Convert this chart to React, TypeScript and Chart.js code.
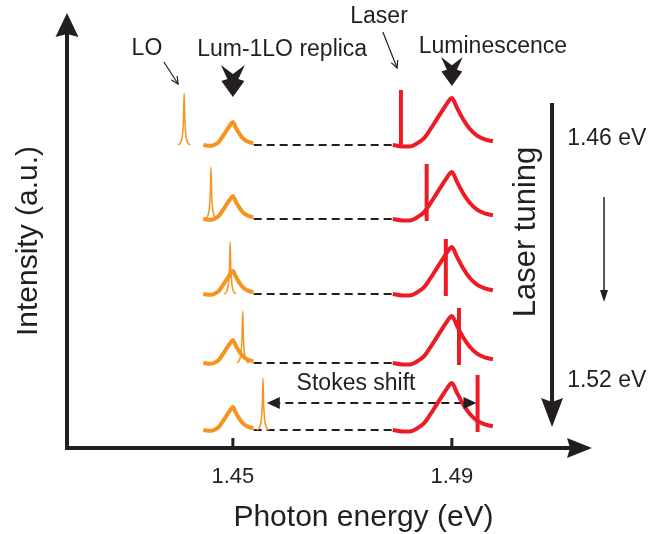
import React, { useEffect, useRef } from "react";
import { Chart, registerables } from "chart.js";

Chart.register(...registerables);

// ---------- data ----------
const X_MIN = 1.4197; // eV at the y-axis
const X_MAX = 1.5156; // eV at the x-axis arrow tip
const Y_MIN = 0;
const Y_MAX = 43.5; // a.u.
const TICK_VALUES = [1.45, 1.49];
const TICK_LABELS = ["1.45", "1.49"];

// vertical offsets (a.u.) of the five spectra, top to bottom
const ROW_BASELINES = [30.3, 22.9, 15.4, 8.5, 1.8];
// laser line energies (eV) for each spectrum
const LASER_ENERGIES = [1.4807, 1.4854, 1.4889, 1.4913, 1.4947];
// LO-shifted laser line energies (eV)
const LO_ENERGIES = [1.4411, 1.446, 1.4495, 1.4518, 1.4555];

const LUM_PEAK = 1.49; // eV
const REPLICA_PEAK = 1.45; // eV
// luminescence line shape: offset from peak (meV) and relative intensity
const LUM_SHAPE_DE = [-10.8, -9.1, -7.7, -6.4, -5.1, -4.0, -2.9, -1.8, -0.9, 0, 0.9, 2.0, 3.3, 4.6, 6.0, 7.5];
const LUM_SHAPE_I = [0, -0.03, -0.03, 0.03, 0.14, 0.32, 0.52, 0.72, 0.88, 1, 0.8, 0.56, 0.34, 0.2, 0.12, 0.08];
const LUM_HEIGHT = 4.7;
const REPLICA_HEIGHT = 2.3;
const REPLICA_WIDTH = 0.5;
// narrow LO line shape
const LO_SHAPE_DE = [-1.1, -0.6, -0.3, -0.12, 0, 0.12, 0.3, 0.6, 1.1];
const LO_SHAPE_I = [0, 0.06, 0.2, 0.5, 1, 0.5, 0.2, 0.06, 0];
const LO_HEIGHT = 5.2;
const LASER_HEIGHT = 5.5;
const LASER_FOOT = -0.2;
// dashed guide lines between replica and luminescence
const DASH_FROM = 1.4538;
const DASH_TO = 1.4792;
// Stokes shift arrow
const STOKES_FROM = 1.4562;
const STOKES_TO = 1.4945;
const STOKES_LEVEL = 4.5;

// ---------- styles ----------
const INK = "#231F20";
const ORANGE = "#F7931E";
const RED = "#ED1C24";
const FONT = '"Liberation Sans", Arial, Helvetica, sans-serif';

type Ctx = CanvasRenderingContext2D;

function arrowHead(ctx: Ctx, tx: number, ty: number, dx: number, dy: number, len: number, hw: number, notch: number) {
  const bx = tx - dx * len;
  const by = ty - dy * len;
  const nx = -dy;
  const ny = dx;
  ctx.beginPath();
  ctx.moveTo(tx, ty);
  ctx.lineTo(bx + nx * hw, by + ny * hw);
  ctx.lineTo(tx - dx * (len - notch), ty - dy * (len - notch));
  ctx.lineTo(bx - nx * hw, by - ny * hw);
  ctx.closePath();
  ctx.fill();
}

function openArrow(ctx: Ctx, x1: number, y1: number, x2: number, y2: number) {
  ctx.beginPath();
  ctx.moveTo(x1, y1);
  ctx.lineTo(x2, y2);
  ctx.stroke();
  const a = Math.atan2(y2 - y1, x2 - x1);
  const L = 8;
  const s = 0.45;
  ctx.beginPath();
  ctx.moveTo(x2 - L * Math.cos(a - s), y2 - L * Math.sin(a - s));
  ctx.lineTo(x2, y2);
  ctx.lineTo(x2 - L * Math.cos(a + s), y2 - L * Math.sin(a + s));
  ctx.stroke();
}

function dart(ctx: Ctx, cx: number, top: number, tip: number) {
  const s = (tip - top) / 32;
  const pts = [
    [-12, 0], [0, 9], [12, 0], [5.5, 14], [11.5, 16], [0, 32], [-11.5, 16], [-5.5, 14],
  ];
  ctx.beginPath();
  pts.forEach(([px, py], i) => {
    const X = cx + px * s;
    const Y = top + py * s;
    if (i === 0) ctx.moveTo(X, Y);
    else ctx.lineTo(X, Y);
  });
  ctx.closePath();
  ctx.fill();
}

const overlay = {
  id: "overlay",
  afterDatasetsDraw(chart: any) {
    const { ctx, chartArea } = chart;
    const xs = chart.scales.x;
    const ys = chart.scales.y;
    const px = (e: number) => xs.getPixelForValue(e);
    const py = (v: number) => ys.getPixelForValue(v);
    const x0 = chartArea.left;
    const y0 = chartArea.bottom;
    ctx.save();
    ctx.strokeStyle = INK;
    ctx.fillStyle = INK;

    // axes
    ctx.lineWidth = 4;
    ctx.lineCap = "butt";
    ctx.beginPath();
    ctx.moveTo(x0, y0 + 2);
    ctx.lineTo(x0, chartArea.top + 20);
    ctx.stroke();
    arrowHead(ctx, x0, chartArea.top, 0, -1, 24, 11.5, 3);
    ctx.beginPath();
    ctx.moveTo(x0 - 2, y0);
    ctx.lineTo(chartArea.right - 20, y0);
    ctx.stroke();
    arrowHead(ctx, chartArea.right, y0, 1, 0, 25, 10, 3);

    // ticks
    ctx.lineWidth = 3;
    TICK_VALUES.forEach((t) => {
      ctx.beginPath();
      ctx.moveTo(px(t), y0);
      ctx.lineTo(px(t), y0 - 10);
      ctx.stroke();
    });
    ctx.font = `22px ${FONT}`;
    ctx.textAlign = "center";
    ctx.textBaseline = "middle";
    TICK_VALUES.forEach((t, i) => ctx.fillText(TICK_LABELS[i], px(t), y0 + 29));

    // axis titles
    ctx.font = `30px ${FONT}`;
    ctx.textBaseline = "alphabetic";
    ctx.fillText("Photon energy (eV)", (x0 + chartArea.right) / 2 + 34, y0 + 78);
    ctx.save();
    ctx.translate(x0 - 30, py(20.7));
    ctx.rotate(-Math.PI / 2);
    ctx.fillText("Intensity (a.u.)", 0, 0);
    ctx.restore();

    // top annotations
    ctx.font = `23px ${FONT}`;
    ctx.textBaseline = "middle";
    ctx.fillText("LO", px(1.4343), py(39.9));
    ctx.fillText("Lum-1LO replica", px(1.459), py(39.8));
    ctx.fillText("Laser", px(1.4767), py(43.1));
    ctx.fillText("Luminescence", px(1.4975), py(40.1));
    dart(ctx, px(REPLICA_PEAK), py(38.3), py(35.1));
    dart(ctx, px(LUM_PEAK), py(39.1), py(36.2));
    ctx.lineWidth = 1.2;
    openArrow(ctx, px(1.4374), py(38.6), px(1.44), py(36.4));
    openArrow(ctx, px(1.4774), py(41.6), px(1.48), py(38.0));

    // Stokes shift
    arrowHead(ctx, px(STOKES_FROM), py(STOKES_LEVEL), -1, 0, 13, 6, 0);
    arrowHead(ctx, px(STOKES_TO), py(STOKES_LEVEL), 1, 0, 13, 6, 0);
    ctx.fillText("Stokes shift", px(1.4725), py(6.4));

    // laser tuning
    ctx.lineWidth = 4;
    ctx.beginPath();
    ctx.moveTo(px(1.5083), py(34.5));
    ctx.lineTo(px(1.5083), py(2.1) - 25);
    ctx.stroke();
    arrowHead(ctx, px(1.5083), py(2.1), 0, 1, 29, 11, 4);
    ctx.lineWidth = 1.5;
    ctx.beginPath();
    ctx.moveTo(px(1.5178), py(25.1));
    ctx.lineTo(px(1.5178), py(14.6) - 10);
    ctx.stroke();
    arrowHead(ctx, px(1.5178), py(14.6), 0, 1, 12, 4, 0);
    ctx.fillText("1.46 eV", px(1.5183), py(30.9));
    ctx.fillText("1.52 eV", px(1.5183), py(6.7));
    ctx.save();
    ctx.font = `31px ${FONT}`;
    ctx.translate(px(1.5037), py(21.6));
    ctx.rotate(-Math.PI / 2);
    ctx.fillText("Laser tuning", 0, 0);
    ctx.restore();

    ctx.restore();
  },
};

export default function App() {
  const ref = useRef<HTMLCanvasElement | null>(null);

  useEffect(() => {
    if (!ref.current) return;
    const datasets: any[] = [];
    ROW_BASELINES.forEach((b, i) => {
      datasets.push({
        data: [{ x: DASH_FROM, y: b }, { x: DASH_TO, y: b }],
        borderColor: INK,
        borderWidth: 2,
        borderDash: [8, 5],
        borderCapStyle: "butt",
        order: 5,
      });
      datasets.push({
        data: LUM_SHAPE_DE.map((d, k) => ({ x: REPLICA_PEAK + (d * REPLICA_WIDTH) / 1000, y: b + LUM_SHAPE_I[k] * REPLICA_HEIGHT })),
        borderColor: ORANGE,
        borderWidth: 4,
        cubicInterpolationMode: "monotone",
        order: 4,
      });
      datasets.push({
        data: LO_SHAPE_DE.map((d, k) => ({ x: LO_ENERGIES[i] + d / 1000, y: b + LO_SHAPE_I[k] * LO_HEIGHT })),
        borderColor: ORANGE,
        borderWidth: 1.5,
        cubicInterpolationMode: "monotone",
        order: 3,
      });
      datasets.push({
        data: LUM_SHAPE_DE.map((d, k) => ({ x: LUM_PEAK + d / 1000, y: b + LUM_SHAPE_I[k] * LUM_HEIGHT })),
        borderColor: RED,
        borderWidth: 4,
        cubicInterpolationMode: "monotone",
        order: 2,
      });
      datasets.push({
        data: [{ x: LASER_ENERGIES[i], y: b + LASER_FOOT }, { x: LASER_ENERGIES[i], y: b + LASER_HEIGHT }],
        borderColor: RED,
        borderWidth: 4,
        borderCapStyle: "butt",
        order: 1,
      });
    });
    datasets.push({
      data: [{ x: STOKES_FROM + 0.001, y: STOKES_LEVEL }, { x: STOKES_TO - 0.001, y: STOKES_LEVEL }],
      borderColor: INK,
      borderWidth: 2,
      borderDash: [8, 5],
      borderCapStyle: "butt",
      order: 5,
    });

    const chart = new Chart(ref.current, {
      type: "scatter",
      data: { datasets: datasets.map((d) => ({ showLine: true, pointRadius: 0, fill: false, borderJoinStyle: "round", ...d })) },
      options: {
        responsive: false,
        animation: false,
        devicePixelRatio: 1,
        events: [],
        layout: { padding: { left: 67, right: 57, top: 13, bottom: 86 } },
        plugins: { legend: { display: false }, tooltip: { enabled: false } },
        scales: {
          x: { type: "linear", min: X_MIN, max: X_MAX, display: false },
          y: { type: "linear", min: Y_MIN, max: Y_MAX, display: false },
        },
      },
      plugins: [overlay],
    } as any);
    return () => chart.destroy();
  }, []);

  return (
    <div style={{ position: "absolute", left: 0, top: 0, width: 649, height: 534, background: "#fff" }}>
      <canvas ref={ref} width={649} height={534} style={{ display: "block" }} />
    </div>
  );
}
